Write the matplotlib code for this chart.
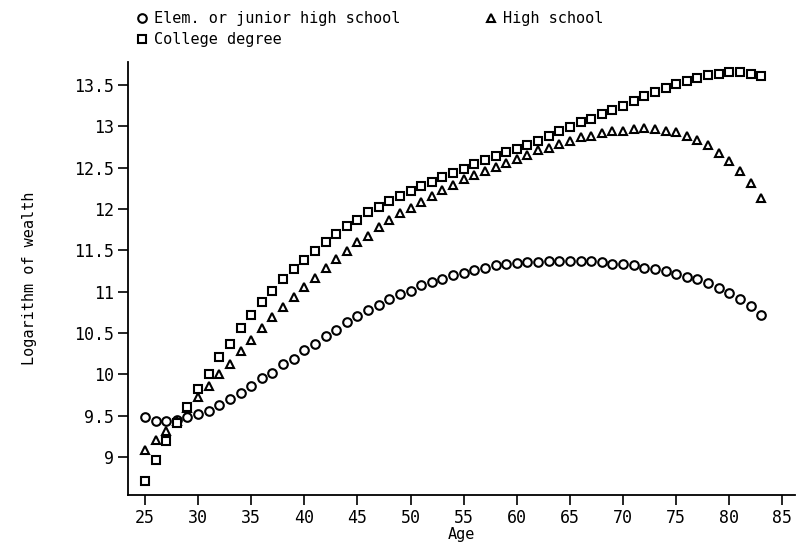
import matplotlib
matplotlib.use("Agg")
import matplotlib.pyplot as plt
import numpy as np

ages = list(range(25, 84))

elem = [9.48, 9.44, 9.43, 9.45, 9.48, 9.52, 9.56, 9.63, 9.70, 9.77,
        9.86, 9.95, 10.02, 10.12, 10.18, 10.29, 10.37, 10.46, 10.54, 10.63,
        10.71, 10.78, 10.84, 10.91, 10.97, 11.01, 11.08, 11.12, 11.16, 11.20,
        11.23, 11.26, 11.29, 11.32, 11.33, 11.35, 11.36, 11.36, 11.37, 11.37,
        11.37, 11.37, 11.37, 11.36, 11.34, 11.33, 11.32, 11.29, 11.28, 11.25,
        11.22, 11.18, 11.15, 11.10, 11.05, 10.98, 10.91, 10.83, 10.72]

high = [9.08, 9.21, 9.32, 9.44, 9.59, 9.72, 9.86, 10.00, 10.13, 10.28,
        10.42, 10.56, 10.69, 10.82, 10.94, 11.06, 11.17, 11.29, 11.40, 11.49,
        11.60, 11.68, 11.78, 11.87, 11.95, 12.01, 12.09, 12.16, 12.23, 12.29,
        12.36, 12.41, 12.46, 12.51, 12.56, 12.61, 12.65, 12.71, 12.74, 12.79,
        12.82, 12.87, 12.89, 12.92, 12.94, 12.95, 12.97, 12.98, 12.97, 12.95,
        12.93, 12.89, 12.84, 12.78, 12.68, 12.58, 12.46, 12.31, 12.13]

college = [8.71, 8.96, 9.19, 9.41, 9.61, 9.82, 10.01, 10.21, 10.37, 10.56,
           10.72, 10.87, 11.01, 11.15, 11.27, 11.38, 11.49, 11.60, 11.70, 11.79,
           11.87, 11.96, 12.03, 12.10, 12.16, 12.22, 12.28, 12.33, 12.39, 12.44,
           12.49, 12.54, 12.59, 12.64, 12.69, 12.73, 12.78, 12.83, 12.89, 12.94,
           12.99, 13.05, 13.09, 13.15, 13.20, 13.25, 13.31, 13.37, 13.42, 13.47,
           13.51, 13.55, 13.59, 13.62, 13.64, 13.66, 13.66, 13.64, 13.61]

labels = ["Elem. or junior high school", "College degree", "High school"]
xticks = list(range(25, 90, 5))
yticks = [9, 9.5, 10, 10.5, 11, 11.5, 12, 12.5, 13, 13.5]
yticklabels = ["9", "9.5", "10", "10.5", "11", "11.5", "12", "12.5", "13", "13.5"]

plt.rcParams['font.family'] = ['DejaVu Sans Mono']

fig = plt.figure(figsize=(7.96, 5.45), dpi=100)
ax = fig.add_axes([128/796, 1-495/545, 1-128/796-0.001, (495-62)/545])

kw = dict(linestyle='none', markerfacecolor='white', markeredgecolor='black',
          markeredgewidth=1.5)
h1, = ax.plot(ages, elem, marker='o', markersize=6.2, **kw)
h3, = ax.plot(ages, high, marker='^', markersize=6.2, **kw)
h2, = ax.plot(ages, college, marker='s', markersize=6.0, **kw)

ax.set_xlim(23.4, 86.2)
ax.set_ylim(8.54, 13.78)
ax.set_xticks(xticks)
ax.set_xticklabels([str(t) for t in xticks], fontsize=12)
ax.set_yticks(yticks)
ax.set_yticklabels(yticklabels, fontsize=12)
ax.tick_params(direction='out', length=7, width=1.2, pad=3)
for s in ['top', 'right']:
    ax.spines[s].set_visible(False)
for s in ['left', 'bottom']:
    ax.spines[s].set_linewidth(1.3)

ax.set_xlabel("Age", fontsize=11, labelpad=0)
ax.set_ylabel("Logarithm of wealth", fontsize=11, labelpad=27)

leg = fig.legend([h1, h2, h3], labels, loc='upper left',
                 bbox_to_anchor=(130/796, 1 - 5/545), ncol=2, frameon=False,
                 fontsize=11, handlelength=0.8, handletextpad=0.4,
                 columnspacing=5.5, labelspacing=0.4, borderaxespad=0)

fig.savefig("out.png", dpi=100)
